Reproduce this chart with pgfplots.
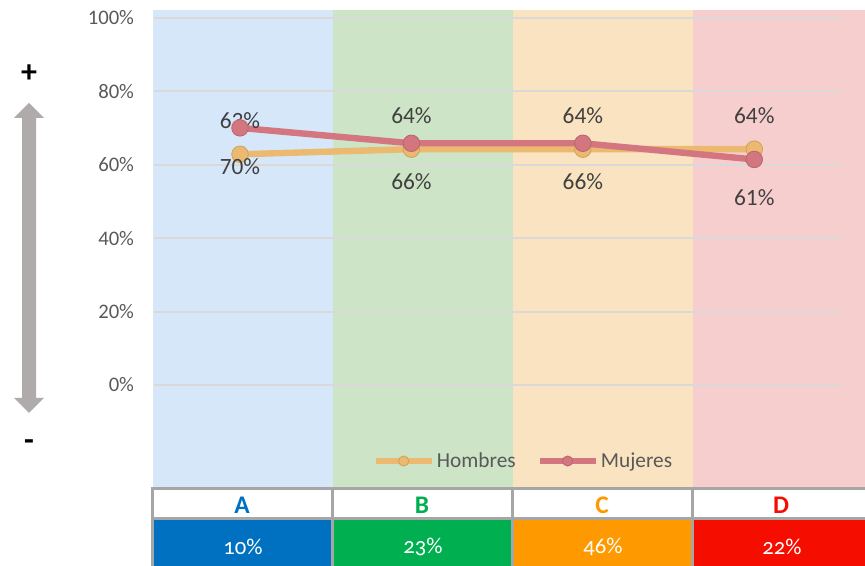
\documentclass[border=0pt]{standalone}
\usepackage{fontspec}
\setmainfont{Carlito}
\newfontfamily\oldnum[Numbers=OldStyle]{Carlito}
\usepackage{pgfplots}
\pgfplotsset{compat=1.18}
\definecolor{bandA}{RGB}{213,231,249}
\definecolor{bandB}{RGB}{206,228,198}
\definecolor{bandC}{RGB}{249,227,192}
\definecolor{bandD}{RGB}{247,206,206}
\definecolor{colA}{RGB}{0,112,192}
\definecolor{colB}{RGB}{0,176,80}
\definecolor{colC}{RGB}{255,153,0}
\definecolor{colD}{RGB}{245,14,0}
\definecolor{gridgray}{RGB}{217,217,217}
\definecolor{tickgray}{RGB}{89,89,89}
\definecolor{labgray}{RGB}{64,64,64}
\definecolor{bordgray}{RGB}{166,166,166}
\definecolor{arrowgray}{RGB}{175,171,170}
\definecolor{hombres}{RGB}{235,186,112}
\definecolor{hombresdk}{RGB}{205,160,95}
\definecolor{mujeres}{RGB}{212,118,128}
\definecolor{mujeresdk}{RGB}{185,100,110}
\begin{document}
\begin{tikzpicture}[x=0.75pt,y=0.75pt]
\useasboundingbox (0,0) rectangle (865,566);
% background bands
\fill[bandA] (153,77) rectangle (333,556);
\fill[bandB] (333,77) rectangle (513,556);
\fill[bandC] (513,77) rectangle (693,556);
\fill[bandD] (693,77) rectangle (865,556);
% table
\fill[white] (152.5,77) rectangle (865,47);
\fill[colA] (152.5,47) rectangle (332.5,0);
\fill[colB] (332.5,47) rectangle (512.5,0);
\fill[colC] (512.5,47) rectangle (692.5,0);
\fill[colD] (692.5,47) rectangle (865,0);
\draw[bordgray, line width=2.25pt] (152.5,0) -- (152.5,77) -- (865,77);
\draw[bordgray, line width=2.25pt] (152.5,47) -- (865,47);
\foreach \xx in {332.5,512.5,692.5} \draw[bordgray, line width=2.25pt] (\xx,0) -- (\xx,77);
\node[font=\bfseries\fontsize{19}{22}\selectfont, text=colA] at (242,61) {A};
\node[font=\bfseries\fontsize{19}{22}\selectfont, text=colB] at (422,61) {B};
\node[font=\bfseries\fontsize{19}{22}\selectfont, text=colC] at (602,61) {C};
\node[font=\bfseries\fontsize{19}{22}\selectfont, text=colD] at (781,61) {D};
\node[font=\oldnum\fontsize{17}{20}\selectfont, text=white] at (243,19) {10\%};
\node[font=\oldnum\fontsize{17}{20}\selectfont, text=white] at (423,19) {23\%};
\node[font=\oldnum\fontsize{17}{20}\selectfont, text=white] at (603,19) {46\%};
\node[font=\oldnum\fontsize{17}{20}\selectfont, text=white] at (782,19) {22\%};
% double arrow
\fill[arrowgray] (29,463) -- (44,448) -- (36,448) -- (36,168) -- (44,168) -- (29,153) -- (14,168) -- (22,168) -- (22,448) -- (14,448) -- cycle;
\node[font=\bfseries\fontsize{24}{28}\selectfont] at (29,492) {+};
\node[font=\bfseries\fontsize{24}{28}\selectfont] at (29,121) {-};
\begin{axis}[
  at={(115.7pt,135.75pt)}, anchor=south west,
  width=514.3pt, height=275.5pt, scale only axis,
  xmin=-0.5, xmax=3.5, ymin=0, ymax=100,
  clip=false,
  axis line style={draw=none},
  xtick=\empty,
  ytick={0,20,40,60,80,100},
  ymajorgrids,
  grid style={draw=gridgray, line width=1.5pt},
  major tick length=0pt,
  /pgf/number format/assume math mode=true,
  yticklabel={\pgfmathprintnumber{\tick}\%},
  yticklabel style={font=\fontsize{15.5}{18}\selectfont, text=tickgray, anchor=east, inner sep=0pt, xshift=-15pt},
  legend style={at={(axis description cs:0.5392,-0.207)}, anchor=center, draw=none, fill=none,
    font=\fontsize{16}{19}\selectfont, text=tickgray, inner sep=0pt,
    /tikz/every even column/.append style={column sep=14pt}},
  legend columns=2,
  legend cell align=left,
  legend image code/.code={\draw[mark repeat=2,mark phase=2,#1,line width=3.8pt,mark size=3.8pt] plot coordinates {(0pt,0pt) (21pt,0pt) (42pt,0pt)};},
  nodes near coords={\pgfmathprintnumber[fixed,precision=0]{\pgfplotspointmeta}\%},
  every node near coord/.append style={font=\fontsize{17.5}{20}\selectfont, text=labgray, anchor=center},
]
\addplot[hombres, line width=4.8pt, mark=*, mark size=6.2pt, mark options={fill=hombres, draw=hombresdk, line width=0.6pt},
  every node near coord/.append style={yshift=25pt}]
  coordinates {(0,62.8) (1,64.2) (2,64.2) (3,64.2)};
\addlegendentry{Hombres}
\addplot[mujeres, line width=4.8pt, mark=*, mark size=6.2pt, mark options={fill=mujeres, draw=mujeresdk, line width=0.6pt},
  every node near coord/.append style={yshift=-29pt}]
  coordinates {(0,70.0) (1,65.8) (2,65.8) (3,61.4)};
\addlegendentry{Mujeres}
\end{axis}
\end{tikzpicture}
\end{document}
